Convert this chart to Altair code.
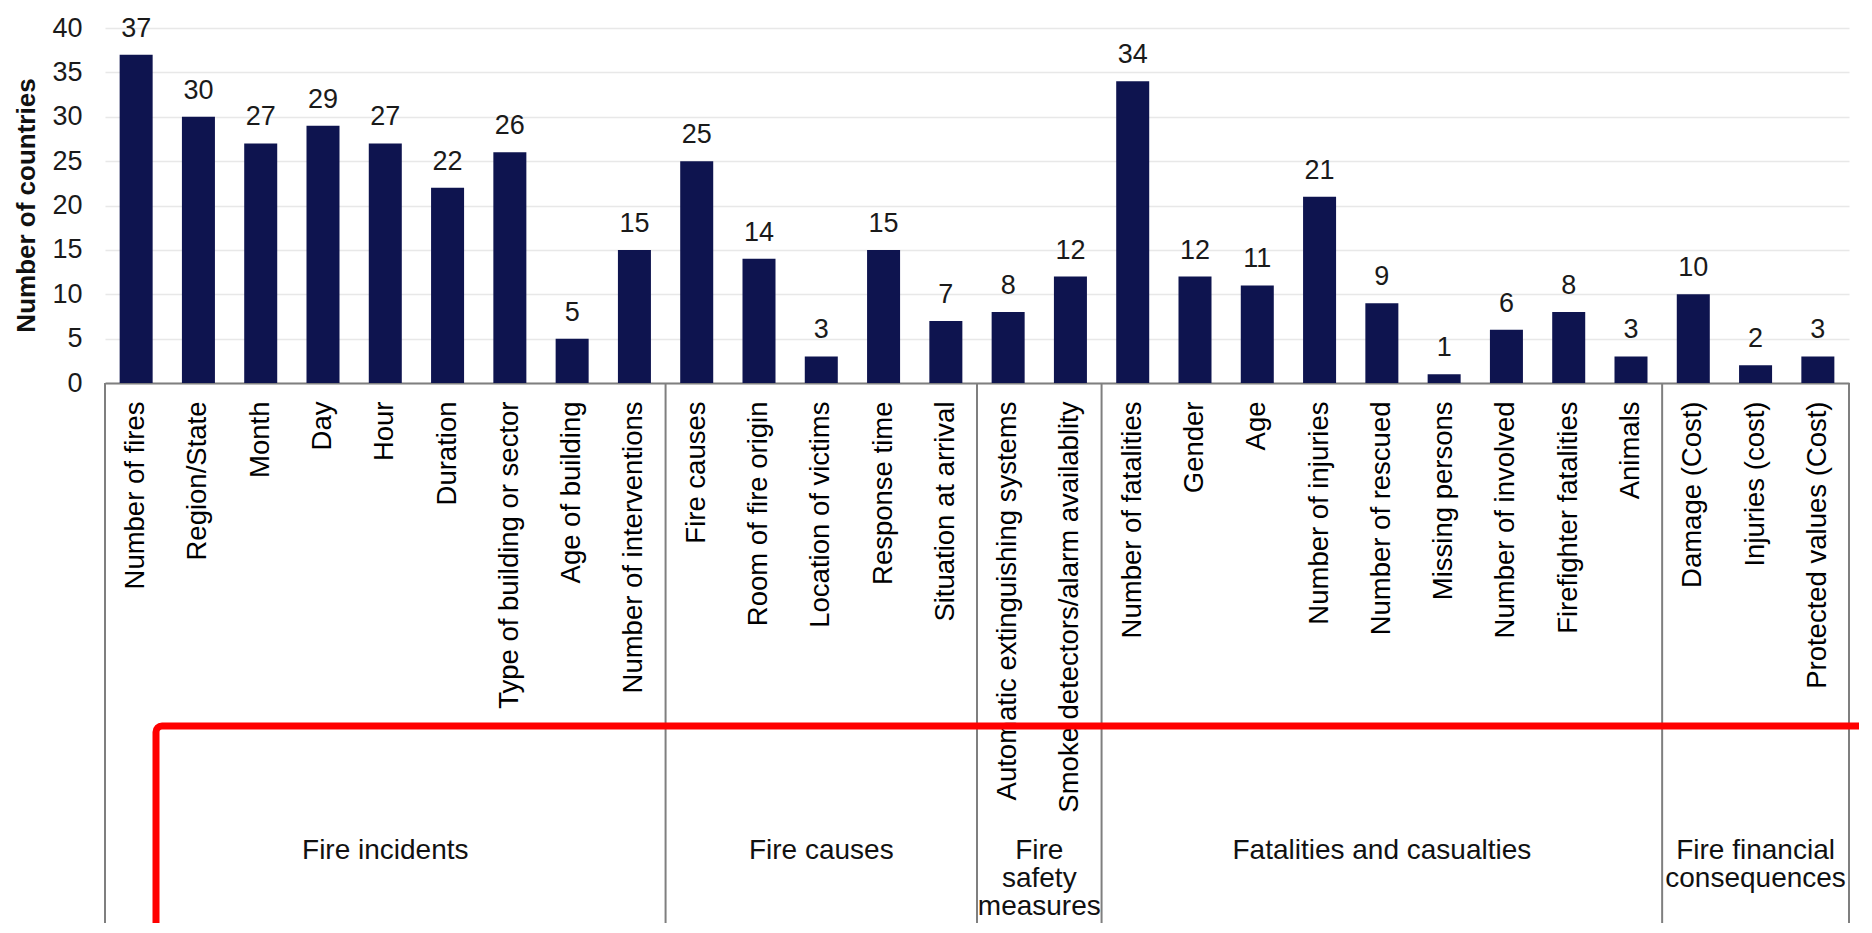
import altair as alt
import pandas as pd

categories = [
    "Number of fires", "Region/State", "Month", "Day", "Hour", "Duration",
    "Type of building or sector", "Age of building", "Number of interventions",
    "Fire causes", "Room of fire origin", "Location of victims", "Response time",
    "Situation at arrival",
    "Automatic extinguishing systems", "Smoke detectors/alarm availablity",
    "Number of fatalities", "Gender", "Age", "Number of injuries", "Number of rescued",
    "Missing persons", "Number of involved", "Firefighter fatalities", "Animals",
    "Damage (Cost)", "Injuries (cost)", "Protected values (Cost)",
]
values = [37, 30, 27, 29, 27, 22, 26, 5, 15,
          25, 14, 3, 15, 7,
          8, 12,
          34, 12, 11, 21, 9, 1, 6, 8, 3,
          10, 2, 3]
group_names = ["Fire incidents", "Fire causes", "Fire\nsafety\nmeasures",
               "Fatalities and casualties", "Fire financial\nconsequences"]
group_sizes = [9, 5, 2, 9, 3]

# derived tables
df = pd.DataFrame({"cat": categories, "val": values})
bounds = [0]
for s in group_sizes:
    bounds.append(bounds[-1] + s)
n = len(categories)
df_bounds = pd.DataFrame({"b": bounds})
df_groups = pd.DataFrame({
    "g": group_names,
    "c": [(bounds[i] + bounds[i + 1]) / 2 for i in range(len(group_sizes))],
})

FONT = "Liberation Sans"
W, H = 1744, 355

xband = alt.Scale(paddingInner=0.47, paddingOuter=0.235)
yscale = alt.Scale(domain=[0, 40], nice=False)

bars = alt.Chart(df).mark_bar(color="#0e144f").encode(
    x=alt.X("cat:N", sort=categories, scale=xband,
            axis=alt.Axis(title=None, labelAngle=270, labelFontSize=27.5,
                          labelPadding=18, ticks=False, labelLimit=1000,
                          labelColor="black", domainColor="#7f7f7f",
                          domainWidth=2, grid=False)),
    y=alt.Y("val:Q", scale=yscale,
            axis=alt.Axis(values=list(range(0, 41, 5)), title="Number of countries",
                          titleFontSize=26, titleFontWeight="bold",
                          titleX=-79, titleY=177, titleAngle=270,
                          titleBaseline="middle", titleAlign="center",
                          titleColor="#111111",
                          labelFontSize=27, labelPadding=23, ticks=False,
                          domain=False, grid=True, gridColor="#e8e8e8",
                          gridWidth=1.5, labelColor="#1a1a1a")),
)

bar_text = alt.Chart(df).mark_text(
    baseline="alphabetic", dy=-18, fontSize=27, color="#1a1a1a", font=FONT
).encode(
    x=alt.X("cat:N", sort=categories, scale=xband, axis=None),
    y=alt.Y("val:Q", scale=yscale),
    text=alt.Text("val:Q"),
)

seps = alt.Chart(df_bounds).mark_rule(color="#7f7f7f", strokeWidth=2).encode(
    x=alt.X("b:Q", scale=alt.Scale(domain=[0, n], nice=False, zero=False), axis=None),
    y=alt.value(H),
    y2=alt.value(1000),
)

group_text = alt.Chart(df_groups).mark_text(
    fontSize=28, lineBreak="\n", lineHeight=28, baseline="alphabetic",
    align="center", color="#111111", font=FONT
).encode(
    x=alt.X("c:Q", scale=alt.Scale(domain=[0, n], nice=False, zero=False), axis=None),
    y=alt.value(831),
    text="g:N",
)

box = alt.Chart(pd.DataFrame({"k": [0]})).mark_rect(
    fillOpacity=0, stroke="#ff0000", strokeWidth=7, cornerRadius=6
).encode(
    x=alt.value(51), x2=alt.value(1800), y=alt.value(698), y2=alt.value(1000),
)

chart = alt.layer(bars, bar_text, seps, group_text, box).resolve_scale(
    x="independent"
).properties(
    width=W, height=H,
    padding={"left": 97, "top": 20, "right": 10, "bottom": 540},
    autosize=alt.AutoSizeParams(type="none"),
).configure(font=FONT).configure_view(stroke=None)

chart.save("out.html", embed_options={"renderer": "svg", "actions": False})
